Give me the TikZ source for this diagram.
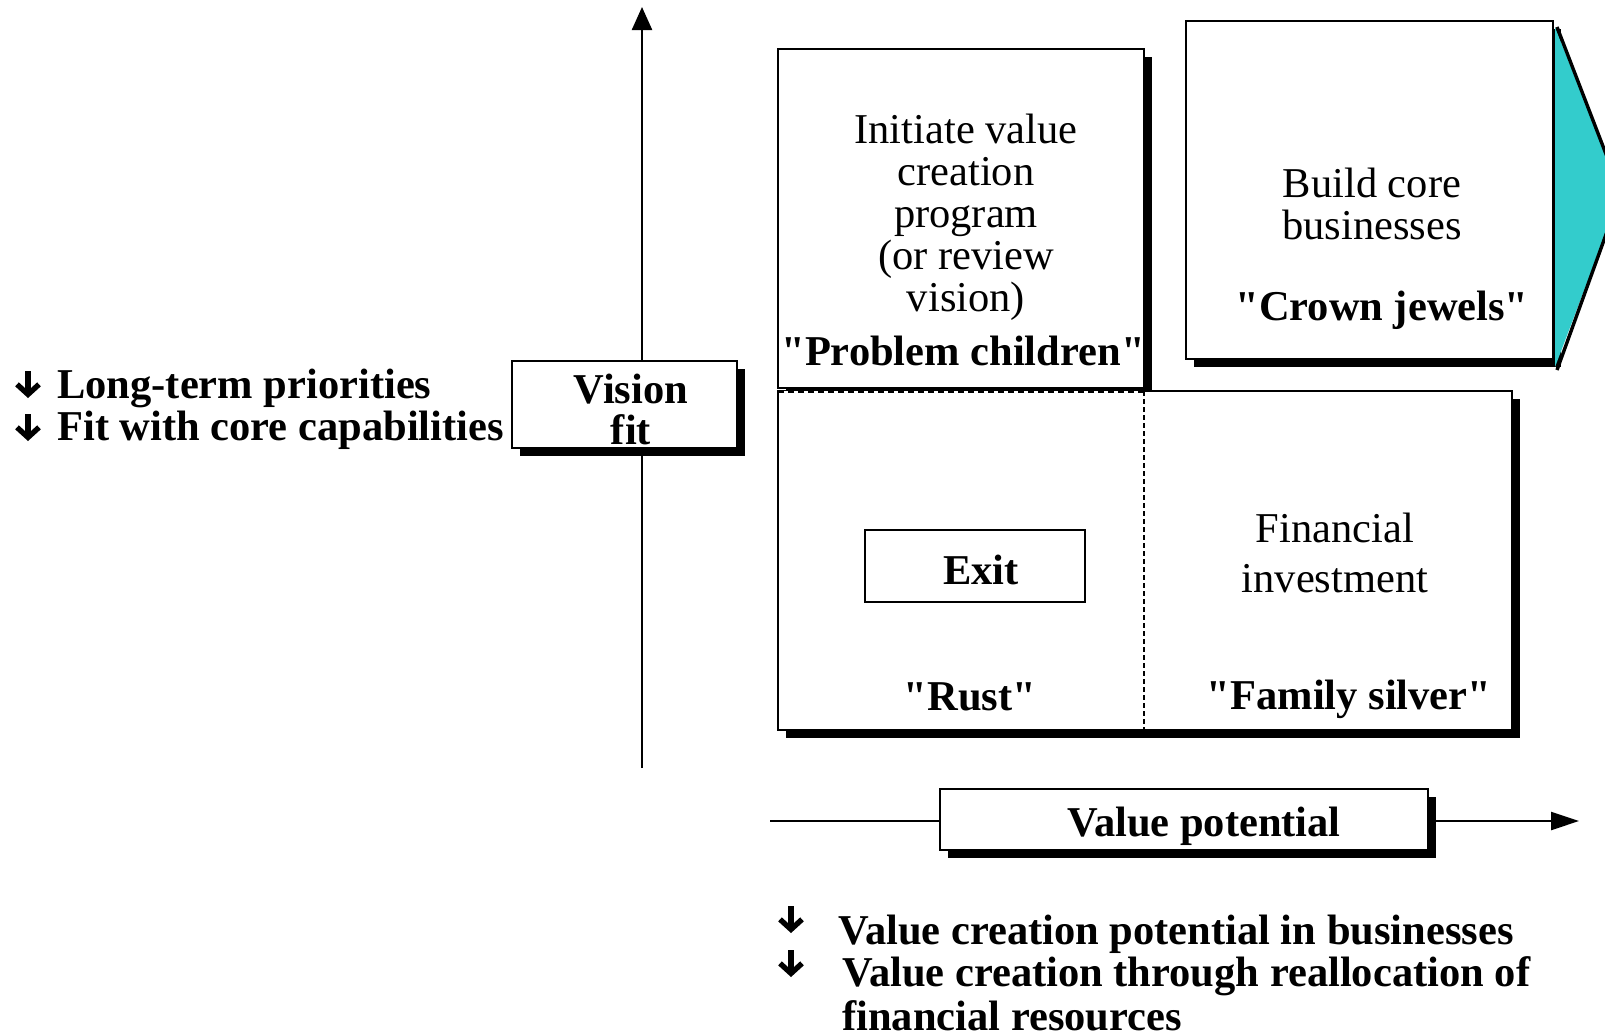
\documentclass[tikz,border=0pt]{standalone}
\usepackage{fontspec}
\setmainfont{Liberation Serif}[Ligatures=TeXOff]
\usetikzlibrary{arrows.meta, positioning, shadows}
\definecolor{crownteal}{HTML}{33CCCC}
\newcommand\bodysize{\fontsize{21.25}{21}\selectfont}

\begin{document}
\begin{tikzpicture}[x=0.5pt, y=-0.5pt, line width=1.25pt,
  every node/.style={font=\bodysize, inner sep=0pt},
  bold/.style={font=\bodysize\bfseries},
  quad/.style={draw, fill=white,
    drop shadow={shadow xshift=4pt, shadow yshift=-4pt, fill=black, opacity=1}},
  tagtext/.style={font=\fontsize{21.25}{20.5}\selectfont\bfseries, align=center},
  pointer/.style={line width=2.7pt, -{Straight Barb[length=5pt, width=11pt]}},
  axis/.style={line width=1.2pt, -{Triangle[length=11.5pt, width=10pt]}}]

  \clip (0,0) rectangle (1605,1035);

  %% Axes
  \coordinate (vlow)  at (642,768);
  \coordinate (vhigh) at (642,7);
  \coordinate (hlow)  at (770,821);
  \coordinate (hhigh) at (1579,821);
  \draw[axis] (vlow) -- (vhigh);
  \draw[axis, -{Triangle[length=14pt, width=9pt]}] (hlow) -- (hhigh);

  %% Crown jewels quadrant with its arrow
  \draw[quad] (1186,21) rectangle (1553,359);
  \fill[crownteal] (1555,27) -- (1621,193) -- (1555,367) -- cycle;
  \draw[line width=1.7pt] (1557,27) -- (1621,193) -- (1557,370);

  %% Problem children quadrant
  \draw[quad] (778,49) rectangle (1144,388);

  %% Rust / family silver pair
  \path[quad] (778,391) rectangle (1512,730);
  \draw[fill=white] (1144,391) -- (1512,391) -- (1512,730) -- (778,730) -- (778,391);
  \draw[line width=1.2pt, dash pattern=on 3pt off 2pt] (778,392) -- (1144,392);
  \draw[line width=0.7pt, dash pattern=on 2.5pt off 1.5pt] (1144,391) -- (1144,730);

  %% Quadrant texts
  \node[align=center] (initiate) at (966,217)
    {Initiate value\\creation\\program\\(or review\\vision)};
  \node[bold] (problem) at (963,351) {"Problem children"};
  \node[align=center] (build) at (1372,204) {Build core\\businesses};
  \node[bold] (crown) at (1382,310) {"Crown jewels"};
  \node[align=center, font=\fontsize{21.25}{25}\selectfont] (financial) at (1335,553)
    {Financial\\investment};
  \node[bold] (rust) at (970,697) {"Rust"};
  \node[bold] (family) at (1349,699) {"Family silver"};
  \node[draw, minimum width=110pt, minimum height=36pt] (exit) at (975,566) {};
  \node[bold] (exittext) at (981,570) {Exit};

  %% Axis tags
  \node[quad, minimum width=112.5pt, minimum height=43.5pt] (vision) at (624.5,404.5) {};
  \node[tagtext] (visiontext) at (631,409) {Vision\\fit};
  \node[quad, minimum width=244pt, minimum height=30.5pt] (value) at (1184,819.5) {};
  \node[tagtext] (valuetext) at (1204,826) {Value potential};

  %% Criteria lists
  \foreach \px/\py in {28/385, 28/428, 791/920, 791/964}
    \draw[pointer] (\px,\py-14) -- (\px,\py+13);
  \node[bold, anchor=west] (longterm) at (56,388) {Long-term priorities};
  \node[bold, anchor=west] (fitcore) at (56,430) {Fit with core capabilities};
  \node[bold, anchor=west] (potential) at (837,934) {Value creation potential in businesses};
  \node[bold, anchor=west] (realloc) at (841,976) {Value creation through reallocation of};
  \node[bold, anchor=west] (resources) at (841,1016) {financial resources};

\end{tikzpicture}
\end{document}
